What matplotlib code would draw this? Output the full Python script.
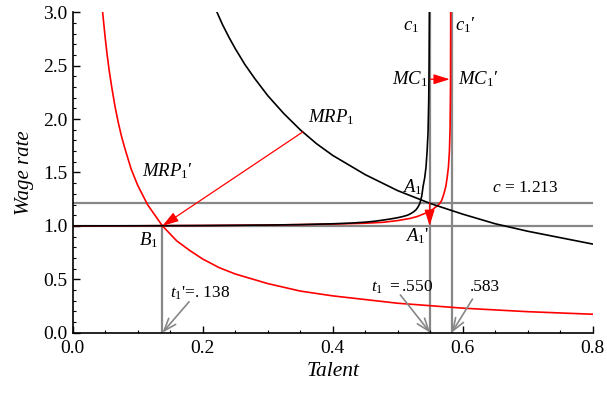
import matplotlib
matplotlib.use("Agg")
import matplotlib.pyplot as plt
from matplotlib.ticker import MultipleLocator

plt.rcParams['font.family'] = ['Liberation Serif', 'DejaVu Serif']
plt.rcParams['mathtext.fontset'] = 'custom'
plt.rcParams['mathtext.rm'] = 'Liberation Serif'
plt.rcParams['mathtext.it'] = 'Liberation Serif:italic'
plt.rcParams['mathtext.bf'] = 'Liberation Serif:bold'

# curves
mrp_x = [0.222, 0.23, 0.24, 0.25, 0.265, 0.28, 0.30, 0.325, 0.35, 0.375, 0.40, 0.45,
         0.50, 0.55, 0.60, 0.65, 0.70, 0.75, 0.80]
mrp_y = [3.00, 2.89, 2.77, 2.66, 2.51, 2.38, 2.22, 2.05, 1.90, 1.77, 1.66, 1.48,
         1.33, 1.21, 1.11, 1.02, 0.95, 0.89, 0.83]

mrp2_x = [0.046, 0.048, 0.050, 0.053, 0.056, 0.060, 0.065, 0.070, 0.075, 0.080, 0.090,
          0.100, 0.115, 0.138, 0.160, 0.180, 0.200, 0.225, 0.250, 0.300, 0.350, 0.400,
          0.500, 0.600, 0.700, 0.800]
mrp2_y = [3.00, 2.88, 2.76, 2.60, 2.46, 2.30, 2.12, 1.97, 1.84, 1.73, 1.53,
          1.38, 1.20, 1.00, 0.86, 0.77, 0.69, 0.61, 0.55, 0.46, 0.39, 0.345,
          0.276, 0.23, 0.197, 0.173]

mc_x = [0.0, 0.1, 0.2, 0.3, 0.35, 0.40, 0.43, 0.45, 0.465, 0.478, 0.49, 0.50, 0.508,
        0.515, 0.52, 0.524, 0.528, 0.531, 0.534, 0.537, 0.539, 0.5415, 0.5435, 0.5452,
        0.5466, 0.5477, 0.5483, 0.5487]
mc_y = [1.0, 1.001, 1.003, 1.008, 1.012, 1.02, 1.027, 1.035, 1.044, 1.055, 1.066, 1.077,
        1.088, 1.10, 1.115, 1.13, 1.15, 1.175, 1.21, 1.28, 1.37, 1.45, 1.55, 1.70,
        1.87, 2.18, 2.55, 3.0]

mc2_x = [0.0, 0.1, 0.2, 0.3, 0.4, 0.45, 0.478, 0.50, 0.519, 0.530, 0.539, 0.545, 0.550,
         0.554, 0.557, 0.561, 0.565, 0.5677, 0.571, 0.574, 0.576, 0.578, 0.5795, 0.5805,
         0.5812, 0.5815]
mc2_y = [1.0, 1.001, 1.004, 1.008, 1.017, 1.025, 1.034, 1.05, 1.07, 1.088, 1.11, 1.125, 1.14,
         1.155, 1.17, 1.19, 1.213, 1.24, 1.30, 1.37, 1.45, 1.55, 1.70, 1.90,
         2.30, 3.0]

c_level = 1.213
w_level = 1.0
t1_new, t1, t1_shift = 0.138, 0.550, 0.583

fig = plt.figure(figsize=(6.07, 3.96), dpi=100)
ax = fig.add_axes([0.1198, 0.1598, 0.9765 - 0.1198, 0.969 - 0.1598])

gray = '#878787'
# guide lines
ax.plot([0, 0.8], [c_level, c_level], color=gray, lw=1.6, zorder=1)
ax.plot([0, 0.8], [w_level, w_level], color=gray, lw=1.6, zorder=1)
ax.plot([t1_new, t1_new], [0, w_level], color=gray, lw=1.6, zorder=1)
ax.plot([t1, t1], [0, 3], color=gray, lw=1.6, zorder=1)
ax.plot([t1_shift, t1_shift], [0, 3], color=gray, lw=1.6, zorder=1)

# curves
ax.plot(mrp_x, mrp_y, color='black', lw=1.2, zorder=3)
ax.plot(mc_x, mc_y, color='black', lw=1.2, zorder=3)
ax.plot(mrp2_x, mrp2_y, color='red', lw=1.2, zorder=2)
ax.plot(mc2_x, mc2_y, color='red', lw=1.2, zorder=2)

# red arrows
red_arrow = dict(arrowstyle='-|>,head_length=0.7,head_width=0.22', color='red', lw=0.9,
                 mutation_scale=14, shrinkA=0, shrinkB=0)
ax.annotate('', xy=(t1_new, w_level), xytext=(0.354, 1.88), arrowprops=red_arrow, zorder=4)
ax.annotate('', xy=(0.580, 2.373), xytext=(0.550, 2.373), arrowprops=red_arrow, zorder=4)
ax.annotate('', xy=(0.549, w_level), xytext=(0.549, c_level), arrowprops=red_arrow, zorder=4)

# gray arrows
gray_arrow = dict(arrowstyle='->,head_length=0.6,head_width=0.22', color=gray, lw=1.2,
                  mutation_scale=15, shrinkA=0, shrinkB=0)
ax.annotate('', xy=(t1_new, 0.0), xytext=(0.179, 0.29), arrowprops=gray_arrow)
ax.annotate('', xy=(t1, 0.0), xytext=(0.504, 0.354), arrowprops=gray_arrow)
ax.annotate('', xy=(t1_shift, 0.0), xytext=(0.615, 0.315), arrowprops=gray_arrow)

# labels
fs = 13.5
ax.text(0.533, 2.865, r'$c_1$', fontsize=fs, ha='right', va='center')
ax.text(0.588, 2.88, r"$c_1$′", fontsize=fs, ha='left', va='center')
ax.text(0.546, 2.373, r'$MC_1$', fontsize=fs, ha='right', va='center')
ax.text(0.593, 2.373, r"$MC_1$′", fontsize=fs, ha='left', va='center')
ax.text(0.362, 2.02, r'$MRP_1$', fontsize=fs, ha='left', va='center')
ax.text(0.106, 1.51, r"$MRP_1$′", fontsize=fs, ha='left', va='center')
ax.text(0.132, 0.868, r'$B_1$', fontsize=fs, ha='right', va='center')
ax.text(0.537, 1.367, r'$A_1$', fontsize=fs, ha='right', va='center')
ax.text(0.549, 0.90, r"$A_1$'", fontsize=fs, ha='right', va='center')
fs2 = 12.5
ax.text(0.645, 1.352, r'$c$ = 1.213', fontsize=fs2, ha='left', va='center')
ax.text(0.150, 0.369, r"$t_1$'=. 138", fontsize=fs2, ha='left', va='center')
ax.text(0.555, 0.425, r"$t_1$ $\mathbf{=}$.550", fontsize=fs2, ha='right', va='center')
ax.text(0.611, 0.425, '.583', fontsize=fs2, ha='left', va='center')

ax.set_xlim(0, 0.8)
ax.set_ylim(0, 3.0)
ax.xaxis.set_major_locator(MultipleLocator(0.2))
ax.xaxis.set_minor_locator(MultipleLocator(0.05))
ax.yaxis.set_major_locator(MultipleLocator(0.5))
ax.yaxis.set_minor_locator(MultipleLocator(0.1))
ax.xaxis.set_major_formatter(lambda v, p: f'{v:.1f}')
ax.yaxis.set_major_formatter(lambda v, p: f'{v:.1f}')
for s in ['top', 'right']:
    ax.spines[s].set_visible(False)
for s in ['left', 'bottom']:
    ax.spines[s].set_linewidth(1.2)
ax.tick_params(which='major', direction='in', length=5, width=1.0, labelsize=14)
ax.tick_params(axis='x', which='major', pad=5)
ax.tick_params(axis='y', which='major', pad=4)
ax.tick_params(which='minor', direction='in', length=2.5, width=0.8)
ax.set_xlabel('Talent', fontsize=15.5, style='italic', labelpad=4)
ax.set_ylabel('Wage rate', fontsize=15, style='italic', labelpad=6)

fig.savefig('out.png', dpi=100)
